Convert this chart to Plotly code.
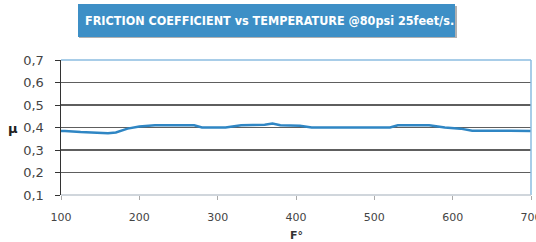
import plotly.graph_objects as go

temperature_f = [100, 105, 125, 160, 170, 185, 200, 220, 270, 280, 310, 330, 360, 370, 380, 405, 420, 520, 530, 570, 590, 610, 625, 700]
friction_mu = [0.385, 0.385, 0.38, 0.375, 0.378, 0.395, 0.404, 0.41, 0.41, 0.40, 0.40, 0.41, 0.412, 0.418, 0.41, 0.408, 0.40, 0.40, 0.41, 0.41, 0.40, 0.395, 0.386, 0.385]
x_ticks = [100, 200, 300, 400, 500, 600, 700]
y_ticks = [0.1, 0.2, 0.3, 0.4, 0.5, 0.6, 0.7]
title_text = "FRICTION COEFFICIENT vs TEMPERATURE @80psi 25feet/s."

fig = go.Figure()
fig.add_trace(go.Scatter(x=temperature_f, y=friction_mu, mode="lines",
                         line=dict(color="#2f86c4", width=2.5), showlegend=False))

W, H = 536, 242
L, R, T, B = 61, 5, 60, 47
pw, ph = W - L - R, H - T - B

def px(x):
    return (x - L) / pw

def py(y):
    return (H - B - y) / ph

fig.update_layout(
    width=W, height=H, autosize=False,
    margin=dict(l=L, r=R, t=T, b=B),
    paper_bgcolor="white", plot_bgcolor="white",
    separators=", ",
    font=dict(family="DejaVu Sans", size=11, color="#444444"),
    xaxis=dict(range=[100, 700], tickvals=x_ticks, showgrid=False, zeroline=False,
               ticks="outside", ticklen=4, tickcolor="#aaaaaa", showline=False,
               automargin=False,
               ticklabeloverflow="allow", ticklabelstandoff=8,
               tickfont=dict(size=11, color="#444444", family="DejaVu Sans")),
    yaxis=dict(range=[0.1, 0.7], tickvals=y_ticks, tickformat=".1f",
               showgrid=True, gridcolor="#5e5e5e", gridwidth=1.5, zeroline=False,
               showline=True, linecolor="#333333", linewidth=1.5,
               ticks="outside", ticklen=5, tickcolor="#333333",
               automargin=False,
               ticklabelstandoff=8,
               tickfont=dict(size=13, color="#444444")),
    shapes=[
        dict(type="line", xref="paper", yref="paper", x0=0, x1=1, y0=1, y1=1,
             line=dict(color="#8bbde0", width=1.5)),
        dict(type="line", xref="paper", yref="paper", x0=1, x1=1, y0=0, y1=1,
             line=dict(color="#8bbde0", width=1.5)),
        dict(type="line", xref="paper", yref="paper", x0=0, x1=1, y0=0, y1=0,
             line=dict(color="#c0c8d0", width=1.5)),
        dict(type="rect", xref="paper", yref="paper", x0=px(79), x1=px(457), y0=py(38), y1=py(6),
             fillcolor="#b0b0b0", line=dict(width=0), layer="below"),
        dict(type="rect", xref="paper", yref="paper", x0=px(78), x1=px(455), y0=py(37), y1=py(4),
             fillcolor="#3d8fc6", line=dict(width=0), layer="above"),
    ],
    annotations=[
        dict(text="<b>" + title_text + "</b>", xref="paper", yref="paper", x=px(269), y=py(20.5),
             showarrow=False, xanchor="center", yanchor="middle",
             font=dict(family="DejaVu Sans Condensed", size=12.5, color="white")),
        dict(text="<b>µ</b>", xref="paper", yref="paper", x=px(13), y=py(128),
             showarrow=False, xanchor="center", yanchor="middle",
             font=dict(family="DejaVu Sans", size=13, color="#222222")),
        dict(text="<b>F°</b>", xref="paper", yref="paper", x=px(296), y=py(235),
             showarrow=False, xanchor="center", yanchor="middle",
             font=dict(family="DejaVu Sans", size=11, color="#333333")),
    ],
)

fig.write_html("out.html",
               config={"displayModeBar": False, "responsive": False, "staticPlot": True},
               post_script="document.body.style.margin='0px';document.body.style.overflow='hidden';")
